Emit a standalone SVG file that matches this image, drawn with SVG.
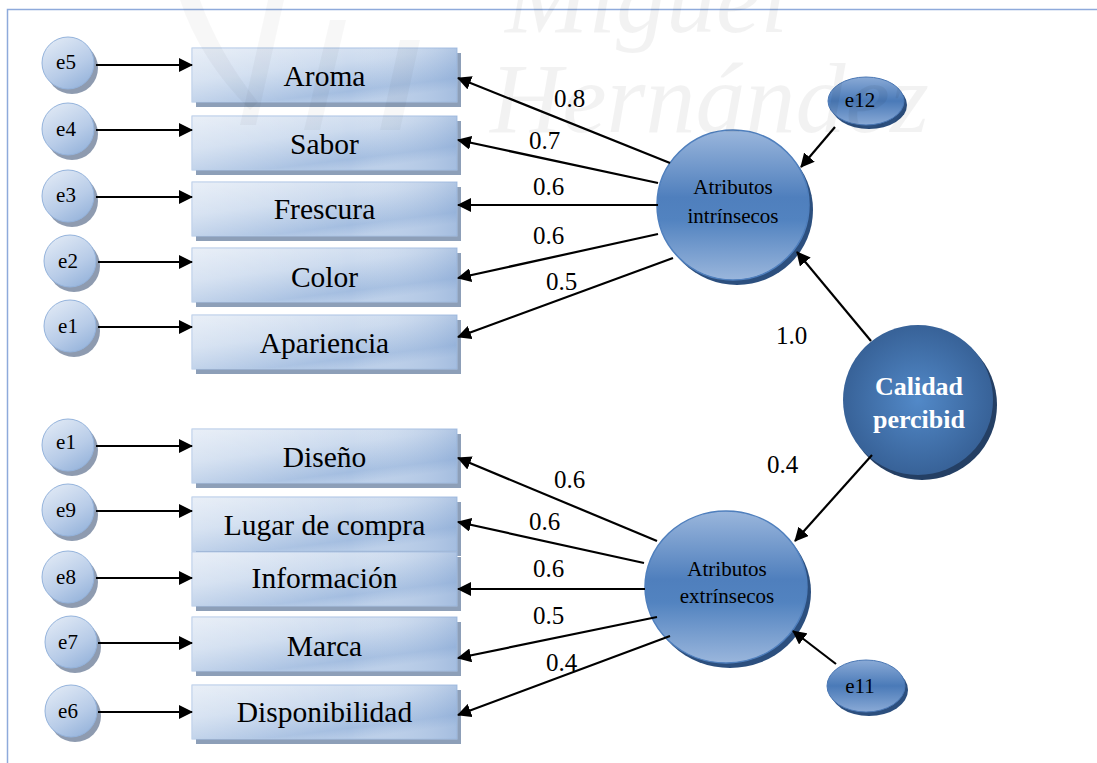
<svg xmlns="http://www.w3.org/2000/svg" width="1097" height="763" viewBox="0 0 1097 763">
  <defs>
    <linearGradient id="boxFill" x1="0" y1="0" x2="0.6" y2="1">
      <stop offset="0" stop-color="#e2eaf5"/>
      <stop offset="0.45" stop-color="#cbdaee"/>
      <stop offset="0.85" stop-color="#a3bde0"/>
      <stop offset="1" stop-color="#b9cde8"/>
    </linearGradient>
    <linearGradient id="boxSheen" x1="0" y1="0" x2="1" y2="0">
      <stop offset="0" stop-color="#ffffff" stop-opacity="0.25"/>
      <stop offset="0.6" stop-color="#ffffff" stop-opacity="0"/>
      <stop offset="1" stop-color="#7d9fcf" stop-opacity="0.35"/>
    </linearGradient>
    <linearGradient id="errFill" x1="0.2" y1="0" x2="0.8" y2="1">
      <stop offset="0" stop-color="#e0e9f5"/>
      <stop offset="0.6" stop-color="#b8cce8"/>
      <stop offset="1" stop-color="#94b2da"/>
    </linearGradient>
    <linearGradient id="latentFill" x1="0" y1="0" x2="0" y2="1">
      <stop offset="0" stop-color="#9ab6dc"/>
      <stop offset="0.45" stop-color="#4f7fbd"/>
      <stop offset="0.6" stop-color="#5283c0"/>
      <stop offset="1" stop-color="#9ab6dc"/>
    </linearGradient>
    <linearGradient id="resFill" x1="0" y1="0" x2="0" y2="1">
      <stop offset="0" stop-color="#8aaad6"/>
      <stop offset="0.5" stop-color="#4a7ab8"/>
      <stop offset="1" stop-color="#8aaad6"/>
    </linearGradient>
    <radialGradient id="coreFill" cx="0.5" cy="0.5" r="0.55">
      <stop offset="0" stop-color="#5289c8"/>
      <stop offset="1" stop-color="#355e93"/>
    </radialGradient>
    <marker id="arrow" viewBox="0 0 14 14" refX="13" refY="7" markerWidth="14" markerHeight="14" markerUnits="userSpaceOnUse" orient="auto">
      <path d="M0,0 L14,7 L0,14 z" fill="#000"/>
    </marker>
    <style>
      .frame { fill: none; stroke: #8eaadb; stroke-width: 1.5; }
      .box { fill: url(#boxFill); stroke: #a9c2e3; stroke-width: 1; }
      .sheen { fill: url(#boxSheen); }
      .boxShadow { fill: #8d9fb8; }
      .boxText { font-family: "Liberation Serif", "Times New Roman", serif; font-size: 29.5px; fill: #000; text-anchor: middle; }
      .err { fill: url(#errFill); stroke: #94b3dc; stroke-width: 1; }
      .errShadow { fill: #8e9bb0; }
      .errText { font-family: "Liberation Serif", "Times New Roman", serif; font-size: 21px; fill: #000; text-anchor: middle; }
      .latent { fill: url(#latentFill); stroke: #4f7fbd; stroke-width: 1.5; }
      .latentShadow { fill: #2c4f7e; }
      .latentText { font-family: "Liberation Serif", "Times New Roman", serif; font-size: 21px; fill: #000; text-anchor: middle; }
      .res { fill: url(#resFill); stroke: #4a77b4; stroke-width: 1; }
      .core { fill: url(#coreFill); }
      .coreShadow { fill: #243f64; }
      .coreText { font-family: "Liberation Serif", "Times New Roman", serif; font-size: 26px; font-weight: bold; fill: #fff; text-anchor: middle; }
      .coef { font-family: "Liberation Serif", "Times New Roman", serif; font-size: 25px; fill: #000; }
      .link { stroke: #000; stroke-width: 2.2; fill: none; marker-end: url(#arrow); }
      .mark { font-family: "Liberation Serif", "Times New Roman", serif; font-style: italic; font-size: 100px; }
    </style>
  </defs>

  <rect width="1097" height="763" fill="#ffffff"/>

  <!-- page frame -->
  <path class="frame" d="M7.5,763 V9.5 H1097"/>

  <!-- measured indicators: intrinsic -->
  <g id="box-aroma">
    <rect class="boxShadow" x="196" y="53" width="265" height="54"/>
    <rect class="box" x="192" y="48" width="265" height="54"/>
    <rect class="sheen" x="192" y="48" width="265" height="54"/>
    <text class="boxText" x="324.5" y="86">Aroma</text>
  </g>
  <g id="box-sabor">
    <rect class="boxShadow" x="196" y="121" width="265" height="54"/>
    <rect class="box" x="192" y="116" width="265" height="54"/>
    <rect class="sheen" x="192" y="116" width="265" height="54"/>
    <text class="boxText" x="324.5" y="154">Sabor</text>
  </g>
  <g id="box-frescura">
    <rect class="boxShadow" x="196" y="187" width="265" height="54"/>
    <rect class="box" x="192" y="182" width="265" height="54"/>
    <rect class="sheen" x="192" y="182" width="265" height="54"/>
    <text class="boxText" x="324.5" y="219">Frescura</text>
  </g>
  <g id="box-color">
    <rect class="boxShadow" x="196" y="253" width="265" height="54"/>
    <rect class="box" x="192" y="248" width="265" height="54"/>
    <rect class="sheen" x="192" y="248" width="265" height="54"/>
    <text class="boxText" x="324.5" y="287">Color</text>
  </g>
  <g id="box-apariencia">
    <rect class="boxShadow" x="196" y="320" width="265" height="54"/>
    <rect class="box" x="192" y="315" width="265" height="54"/>
    <rect class="sheen" x="192" y="315" width="265" height="54"/>
    <text class="boxText" x="324.5" y="353">Apariencia</text>
  </g>

  <!-- measured indicators: extrinsic -->
  <g id="box-diseno">
    <rect class="boxShadow" x="196" y="434" width="265" height="54"/>
    <rect class="box" x="192" y="429" width="265" height="54"/>
    <rect class="sheen" x="192" y="429" width="265" height="54"/>
    <text class="boxText" x="324.5" y="467">Diseño</text>
  </g>
  <g id="box-lugar">
    <rect class="boxShadow" x="196" y="502" width="265" height="54"/>
    <rect class="box" x="192" y="497" width="265" height="54"/>
    <rect class="sheen" x="192" y="497" width="265" height="54"/>
    <text class="boxText" x="324.5" y="535">Lugar de compra</text>
  </g>
  <g id="box-informacion">
    <rect class="boxShadow" x="196" y="557" width="265" height="54"/>
    <rect class="box" x="192" y="552" width="265" height="54"/>
    <rect class="sheen" x="192" y="552" width="265" height="54"/>
    <text class="boxText" x="324.5" y="588">Información</text>
  </g>
  <g id="box-marca">
    <rect class="boxShadow" x="196" y="622" width="265" height="54"/>
    <rect class="box" x="192" y="617" width="265" height="54"/>
    <rect class="sheen" x="192" y="617" width="265" height="54"/>
    <text class="boxText" x="324.5" y="656">Marca</text>
  </g>
  <g id="box-disponibilidad">
    <rect class="boxShadow" x="196" y="690" width="265" height="54"/>
    <rect class="box" x="192" y="685" width="265" height="54"/>
    <rect class="sheen" x="192" y="685" width="265" height="54"/>
    <text class="boxText" x="324.5" y="722">Disponibilidad</text>
  </g>

  <!-- error terms -->
  <g id="err-e5"><circle class="errShadow" cx="72" cy="68" r="26"/><circle class="err" cx="68" cy="63" r="26"/><text class="errText" x="66" y="69">e5</text></g>
  <g id="err-e4"><circle class="errShadow" cx="72" cy="134" r="26"/><circle class="err" cx="68" cy="129" r="26"/><text class="errText" x="66" y="136">e4</text></g>
  <g id="err-e3"><circle class="errShadow" cx="72" cy="201" r="26"/><circle class="err" cx="68" cy="196" r="26"/><text class="errText" x="66" y="202">e3</text></g>
  <g id="err-e2"><circle class="errShadow" cx="74" cy="266" r="26"/><circle class="err" cx="70" cy="261" r="26"/><text class="errText" x="68" y="268">e2</text></g>
  <g id="err-e1a"><circle class="errShadow" cx="74" cy="331" r="26"/><circle class="err" cx="70" cy="326" r="26"/><text class="errText" x="68" y="333">e1</text></g>
  <g id="err-e1b"><circle class="errShadow" cx="72" cy="450" r="26"/><circle class="err" cx="68" cy="445" r="26"/><text class="errText" x="66" y="449">e1</text></g>
  <g id="err-e9"><circle class="errShadow" cx="72" cy="515" r="26"/><circle class="err" cx="68" cy="510" r="26"/><text class="errText" x="66" y="517">e9</text></g>
  <g id="err-e8"><circle class="errShadow" cx="72" cy="582" r="26"/><circle class="err" cx="68" cy="577" r="26"/><text class="errText" x="66" y="584">e8</text></g>
  <g id="err-e7"><circle class="errShadow" cx="75" cy="647" r="26"/><circle class="err" cx="71" cy="642" r="26"/><text class="errText" x="68" y="649">e7</text></g>
  <g id="err-e6"><circle class="errShadow" cx="75" cy="716" r="26"/><circle class="err" cx="71" cy="711" r="26"/><text class="errText" x="68" y="718">e6</text></g>

  <!-- latent factors -->
  <g id="node-intrinsecos">
    <ellipse class="latentShadow" cx="737" cy="210" rx="76" ry="75"/>
    <ellipse class="latent" cx="733" cy="205" rx="76" ry="75"/>
    <text class="latentText" x="733" y="194">Atributos</text>
    <text class="latentText" x="733" y="223">intrínsecos</text>
  </g>
  <g id="node-extrinsecos">
    <ellipse class="latentShadow" cx="730" cy="592" rx="81" ry="76"/>
    <ellipse class="latent" cx="726" cy="587" rx="81" ry="76"/>
    <text class="latentText" x="727" y="576">Atributos</text>
    <text class="latentText" x="727" y="603">extrínsecos</text>
  </g>
  <g id="node-calidad">
    <circle class="coreShadow" cx="922" cy="405" r="75"/>
    <circle class="core" cx="918" cy="400" r="75"/>
    <text class="coreText" x="919" y="395">Calidad</text>
    <text class="coreText" x="919" y="428">percibid</text>
  </g>
  <g id="res-e12">
    <ellipse class="latentShadow" cx="869" cy="105" rx="38" ry="24"/>
    <ellipse class="res" cx="866" cy="101" rx="38" ry="24"/>
    <text class="errText" x="860" y="107">e12</text>
  </g>
  <g id="res-e11">
    <ellipse class="latentShadow" cx="869" cy="690" rx="39" ry="26"/>
    <ellipse class="res" cx="866" cy="686" rx="39" ry="26"/>
    <text class="errText" x="860" y="693">e11</text>
  </g>

  <!-- connectors -->
  <g id="connectors">
    <line class="link" x1="96" y1="65" x2="192" y2="65"/>
    <line class="link" x1="96" y1="130" x2="192" y2="130"/>
    <line class="link" x1="96" y1="197" x2="192" y2="197"/>
    <line class="link" x1="98" y1="262" x2="192" y2="262"/>
    <line class="link" x1="98" y1="327" x2="192" y2="327"/>
    <line class="link" x1="96" y1="446" x2="192" y2="446"/>
    <line class="link" x1="96" y1="511" x2="192" y2="511"/>
    <line class="link" x1="96" y1="578" x2="192" y2="578"/>
    <line class="link" x1="98" y1="643" x2="192" y2="643"/>
    <line class="link" x1="98" y1="712" x2="192" y2="712"/>

    <line class="link" x1="670" y1="163" x2="458" y2="78"/>
    <line class="link" x1="658" y1="183" x2="458" y2="140"/>
    <line class="link" x1="658" y1="205" x2="458" y2="205"/>
    <line class="link" x1="658" y1="234" x2="458" y2="278"/>
    <line class="link" x1="673" y1="258" x2="458" y2="337"/>

    <line class="link" x1="657" y1="541" x2="458" y2="458"/>
    <line class="link" x1="644" y1="563" x2="458" y2="522"/>
    <line class="link" x1="645" y1="589" x2="458" y2="589"/>
    <line class="link" x1="657" y1="617" x2="458" y2="658"/>
    <line class="link" x1="670" y1="636" x2="458" y2="715"/>

    <line class="link" x1="835" y1="127" x2="801" y2="167"/>
    <line class="link" x1="836" y1="664" x2="793" y2="631"/>
    <line class="link" x1="871" y1="341" x2="797" y2="252"/>
    <line class="link" x1="872" y1="455" x2="795" y2="541"/>
  </g>

  <!-- path coefficients -->
  <g id="coefficients">
    <text class="coef" x="554" y="107">0.8</text>
    <text class="coef" x="529" y="149">0.7</text>
    <text class="coef" x="533" y="195">0.6</text>
    <text class="coef" x="533" y="244">0.6</text>
    <text class="coef" x="546" y="290">0.5</text>
    <text class="coef" x="776" y="344">1.0</text>
    <text class="coef" x="767" y="473">0.4</text>
    <text class="coef" x="554" y="488">0.6</text>
    <text class="coef" x="529" y="530">0.6</text>
    <text class="coef" x="533" y="577">0.6</text>
    <text class="coef" x="533" y="624">0.5</text>
    <text class="coef" x="546" y="671">0.4</text>
  </g>

  <!-- faint repository watermark -->
  <g id="watermark" fill="#000">
    <g fill-opacity="0.03">
      <path d="M180,0 Q200,60 250,110 L258,102 Q220,55 200,0 Z"/>
      <path d="M268,0 L284,0 L256,125 L240,125 Z"/>
      <path d="M330,20 L346,20 L320,130 L304,130 Z"/>
      <path d="M400,40 L420,40 L400,130 L380,130 Z"/>
    </g>
    <g fill-opacity="0.05">
      <text class="mark" x="505" y="32">Miguel</text>
      <text class="mark" x="490" y="132">Hernández</text>
    </g>
  </g>
</svg>
